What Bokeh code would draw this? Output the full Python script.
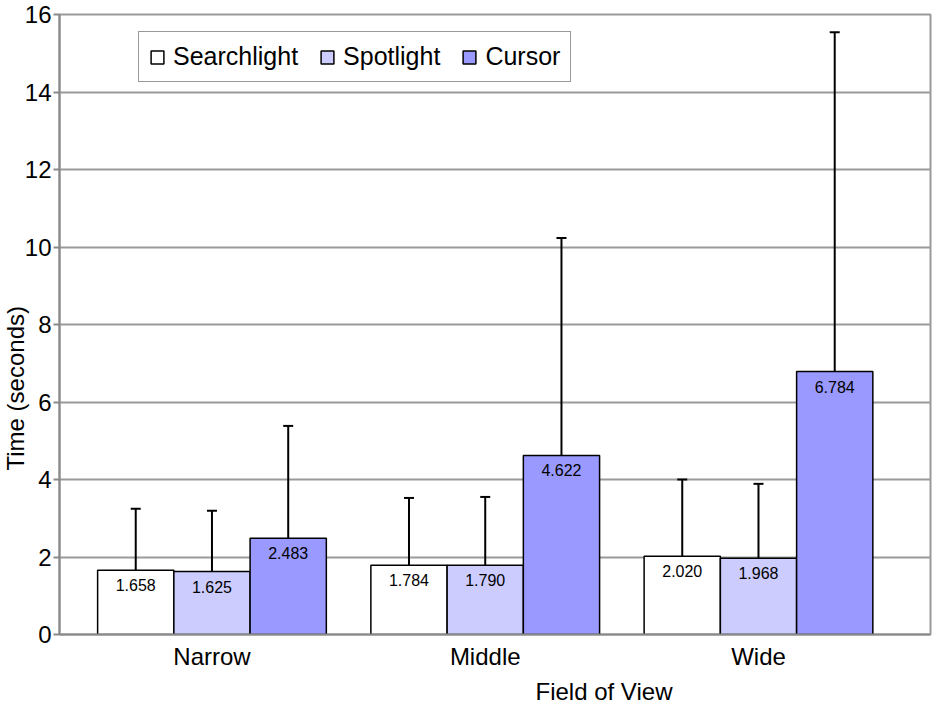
import numpy as np
from bokeh.plotting import figure
from bokeh.models import (Range1d, FixedTicker, Legend, LegendItem, Whisker,
                          TeeHead, Title, ColumnDataSource)
from bokeh.core.properties import value
from bokeh.embed import file_html
from bokeh.resources import INLINE

# ---- data ----
categories = ["Narrow", "Middle", "Wide"]
series_names = ["Searchlight", "Spotlight", "Cursor"]
searchlight = [1.658, 1.784, 2.020]
spotlight = [1.625, 1.790, 1.968]
cursor = [2.483, 4.622, 6.784]
# upper error-bar lengths
searchlight_err = [1.59, 1.74, 1.98]
spotlight_err = [1.57, 1.76, 1.92]
cursor_err = [2.90, 5.61, 8.76]
y_ticks = [0, 2, 4, 6, 8, 10, 12, 14, 16]

colors = ["#FFFFFF", "#CCCCFF", "#9999FF"]
FONT = "Liberation Sans"

series = [searchlight, spotlight, cursor]
errs = [searchlight_err, spotlight_err, cursor_err]

bar_w = 0.279
offsets = [-bar_w, 0.0, bar_w]

p = figure(width=940, height=720, output_backend="svg", toolbar_location=None,
           x_range=Range1d(-0.558, 2.6295), y_range=Range1d(0, 16),
           min_border_left=59, min_border_right=10, min_border_top=14,
           min_border_bottom=86)
p.background_fill_color = "white"
p.border_fill_color = "white"
p.outline_line_color = "#9a9a9a"
p.outline_line_width = 2

idx = np.arange(len(categories))
renderers = []
for name, vals, err, col, off in zip(series_names, series, errs, colors, offsets):
    xs = idx + off
    vals = np.array(vals)
    src = ColumnDataSource(dict(x=xs, top=vals, up=vals + np.array(err),
                                lab=[f"{v:.3f}" for v in vals]))
    r = p.vbar(x="x", top="top", bottom=0, width=bar_w, source=src,
               fill_color=col, line_color="black", line_width=1.5)
    renderers.append(r)
    w = Whisker(source=src, base="x", lower="top", upper="up", dimension="height",
                line_color="black", line_width=2,
                upper_head=TeeHead(size=10, line_color="black", line_width=2),
                lower_head=None)
    p.add_layout(w)
    p.text(x="x", y="top", text="lab", source=src, text_align="center",
           text_baseline="top", y_offset=9, text_font=value(FONT),
           text_font_size="16px", text_color="black")

# axes
p.xaxis.ticker = FixedTicker(ticks=[0, 1, 2])
p.xaxis.major_label_overrides = {i: c for i, c in enumerate(categories)}
p.xaxis.major_tick_out = 0
p.xaxis.major_tick_in = 0
p.xaxis.minor_tick_line_color = None
p.xaxis.major_label_standoff = 8
p.xaxis.major_label_text_font = FONT
p.xaxis.major_label_text_font_size = "24px"
p.xaxis.major_label_text_color = "black"
p.xaxis.axis_line_color = "#8a8a8a"
p.xaxis.axis_line_width = 2

p.yaxis.ticker = FixedTicker(ticks=y_ticks)
p.yaxis.major_tick_out = 6
p.yaxis.major_tick_in = 0
p.yaxis.major_tick_line_color = "#8a8a8a"
p.yaxis.major_tick_line_width = 2
p.yaxis.minor_tick_line_color = None
p.yaxis.major_label_standoff = 2
p.yaxis.major_label_text_font = FONT
p.yaxis.major_label_text_font_size = "24px"
p.yaxis.major_label_text_color = "black"
p.yaxis.axis_line_color = "#8a8a8a"
p.yaxis.axis_line_width = 2

p.xgrid.visible = False
p.ygrid.ticker = FixedTicker(ticks=y_ticks)
p.ygrid.grid_line_color = "#9a9a9a"
p.ygrid.grid_line_width = 2

# axis titles
p.add_layout(Title(text="Field of View", align="left", offset=476, standoff=6,
                   text_font=FONT, text_font_size="24px",
                   text_font_style="normal", text_color="black"), "below")
p.add_layout(Title(text="Time (seconds)", align="left", offset=164, standoff=-14,
                   text_font=FONT, text_font_size="24px",
                   text_font_style="normal", text_color="black"), "left")

legend = Legend(items=[LegendItem(label=n, renderers=[r])
                       for n, r in zip(series_names, renderers)],
                location=(79, 552), orientation="horizontal",
                glyph_width=16, glyph_height=16, label_standoff=8, spacing=21,
                padding=10, margin=0,
                label_text_font=FONT, label_text_font_size="25px",
                label_text_color="black",
                border_line_color="#333333", border_line_width=1.5,
                background_fill_color="white", background_fill_alpha=1)
p.add_layout(legend)

open("out.html", "w").write(file_html(p, INLINE))
